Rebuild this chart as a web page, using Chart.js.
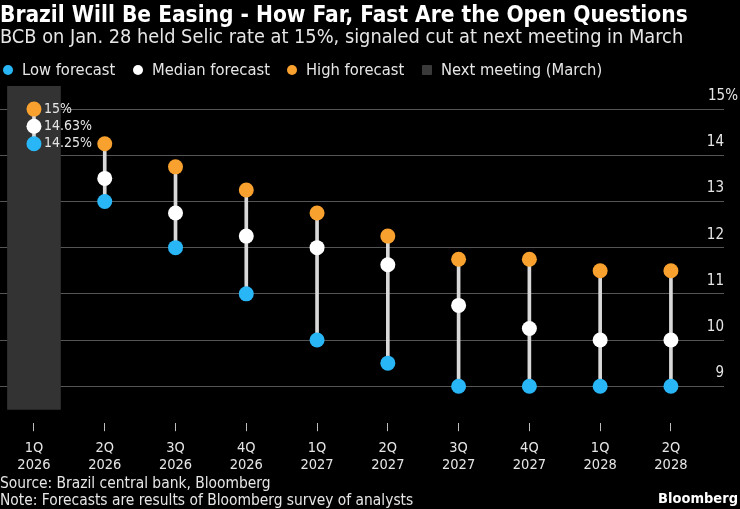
<!DOCTYPE html>
<html>
<head>
<meta charset="utf-8">
<script src="https://cdn.jsdelivr.net/npm/chart.js@4.4.1/dist/chart.umd.min.js"></script>
<style>
  html, body { margin: 0; padding: 0; background: #000; }
  body { width: 740px; height: 509px; position: relative; overflow: hidden;
         font-family: "DejaVu Sans Condensed", "DejaVu Sans", sans-serif; color: #fff; }
  .t { position: absolute; left: 0; white-space: nowrap; line-height: 1; }
  #title { top: 3px; font-size: 22.5px; font-weight: bold; }
  #subtitle { top: 27px; font-size: 19.8px; color: #e6e6e6; }
  #legend span.item { position: absolute; top: 62px; display: flex; align-items: center;
                      font-size: 16.4px; line-height: 1; color: #e6e6e6; white-space: nowrap; }
  #legend i { display: inline-block; width: 10px; height: 10px; border-radius: 50%; margin-right: 9px; }
  #source { top: 476px; font-size: 15.4px; color: #e6e6e6; }
  #note { top: 493px; font-size: 15.4px; color: #e6e6e6; }
  #brand { position: absolute; right: 2px; top: 491px; font-size: 14.5px; line-height: 1; font-weight: bold; }
  #wrap { position: absolute; left: 0; top: 0; width: 740px; height: 509px; }
</style>
</head>
<body>
<div id="wrap"><canvas id="selicChart"></canvas></div>
<div class="t" id="title">Brazil Will Be Easing - How Far, Fast Are the Open Questions</div>
<div class="t" id="subtitle">BCB on Jan. 28 held Selic rate at 15%, signaled cut at next meeting in March</div>
<div id="legend">
  <span class="item" style="left:3px"><i style="background:#29b6f6"></i>Low forecast</span>
  <span class="item" style="left:133px"><i style="background:#fff"></i>Median forecast</span>
  <span class="item" style="left:287px"><i style="background:#f9a12e"></i>High forecast</span>
  <span class="item" style="left:422px"><i style="background:#3a3a3a;border-radius:1px"></i>Next meeting (March)</span>
</div>
<div class="t" id="source">Source: Brazil central bank, Bloomberg</div>
<div class="t" id="note">Note: Forecasts are results of Bloomberg survey of analysts</div>
<div id="brand">Bloomberg</div>
<script>
// DATA
const quarters = ["1Q", "2Q", "3Q", "4Q", "1Q", "2Q", "3Q", "4Q", "1Q", "2Q"];
const years = ["2026", "2026", "2026", "2026", "2027", "2027", "2027", "2027", "2028", "2028"];
const lowForecast = [14.25, 13, 12, 11, 10, 9.5, 9, 9, 9, 9];
const medianForecast = [14.63, 13.5, 12.75, 12.25, 12, 11.63, 10.75, 10.25, 10, 10];
const highForecast = [15, 14.25, 13.75, 13.25, 12.75, 12.25, 11.75, 11.75, 11.5, 11.5];
const yTicks = [9, 10, 11, 12, 13, 14, 15];
const nextMeeting = 0;            // index of the shaded quarter
const meetingSpan = [8.5, 15.5];  // vertical extent of the shading

const BLUE = "#29b6f6", ORANGE = "#f9a12e", WHITE = "#ffffff";
const FONT = "'DejaVu Sans Condensed', 'DejaVu Sans', sans-serif";

const pts = arr => arr.map((v, i) => ({ x: i, y: v }));

// value labels next to the first quarter + the "15%" top tick
const annotate = {
  id: "annotate",
  afterDraw(chart) {
    const ctx = chart.ctx;
    ctx.save();
    ctx.fillStyle = "#e6e6e6";
    ctx.font = "14px " + FONT;
    ctx.textAlign = "left";
    ctx.textBaseline = "middle";
    [2, 3, 4].forEach(di => {
      const p = chart.getDatasetMeta(di).data[nextMeeting];
      const v = chart.data.datasets[di].data[nextMeeting].y;
      ctx.fillText(v + "%", p.x + 10, p.y);
    });
    const ys = chart.scales.y;
    const top = yTicks[yTicks.length - 1];
    ctx.font = "15px " + FONT;
    ctx.textAlign = "right";
    ctx.fillText(top + "%", chart.chartArea.right + 14, ys.getPixelForValue(top) - 13);
    ctx.restore();
  }
};

new Chart(document.getElementById("selicChart"), {
  type: "scatter",
  data: {
    datasets: [
      {
        type: "bar",
        data: [{ x: nextMeeting, y: meetingSpan }],
        backgroundColor: "#333333",
        barThickness: 53,
        grouped: false,
        order: 4
      },
      {
        type: "bar",
        data: quarters.map((q, i) => ({ x: i, y: [lowForecast[i], highForecast[i]] })),
        backgroundColor: "#d9d9d9",
        barThickness: 3,
        grouped: false,
        order: 3
      },
      { label: "High forecast", data: pts(highForecast), backgroundColor: ORANGE, pointRadius: 7.5, borderWidth: 0, order: 1 },
      { label: "Median forecast", data: pts(medianForecast), backgroundColor: WHITE, pointRadius: 7.5, borderWidth: 0, order: 1 },
      { label: "Low forecast", data: pts(lowForecast), backgroundColor: BLUE, pointRadius: 7.5, borderWidth: 0, order: 1 }
    ]
  },
  options: {
    responsive: true,
    maintainAspectRatio: false,
    animation: false,
    layout: { autoPadding: false, padding: { top: 86, right: 16, left: 0, bottom: 27 } },
    plugins: { legend: { display: false }, tooltip: { enabled: false } },
    scales: {
      x: {
        type: "linear",
        min: -0.48,
        max: 9.75,
        offset: false,
        afterBuildTicks: s => { s.ticks = quarters.map((q, i) => ({ value: i })); },
        afterFit: s => { s.paddingLeft = 0; s.paddingRight = 0; },
        ticks: {
          color: "#e6e6e6",
          font: { family: FONT, size: 14.5 },
          padding: 8,
          maxRotation: 0,
          autoSkip: false,
          callback: v => [quarters[v], years[v]]
        },
        grid: { offset: false, drawOnChartArea: false, drawTicks: true, tickLength: 8, tickColor: "#bdbdbd" },
        border: { display: false }
      },
      y: {
        type: "linear",
        position: "right",
        min: 8.2,
        max: 15.5,
        afterBuildTicks: s => { s.ticks = yTicks.map(v => ({ value: v })); },
        ticks: {
          mirror: true,
          padding: 0,
          labelOffset: -13,
          color: "#e6e6e6",
          font: { family: FONT, size: 15 },
          callback: v => (v === yTicks[yTicks.length - 1] ? "" : String(v))
        },
        grid: { color: "#555555", lineWidth: 1, drawTicks: false },
        border: { display: false }
      }
    }
  },
  plugins: [annotate]
});
</script>
</body>
</html>
